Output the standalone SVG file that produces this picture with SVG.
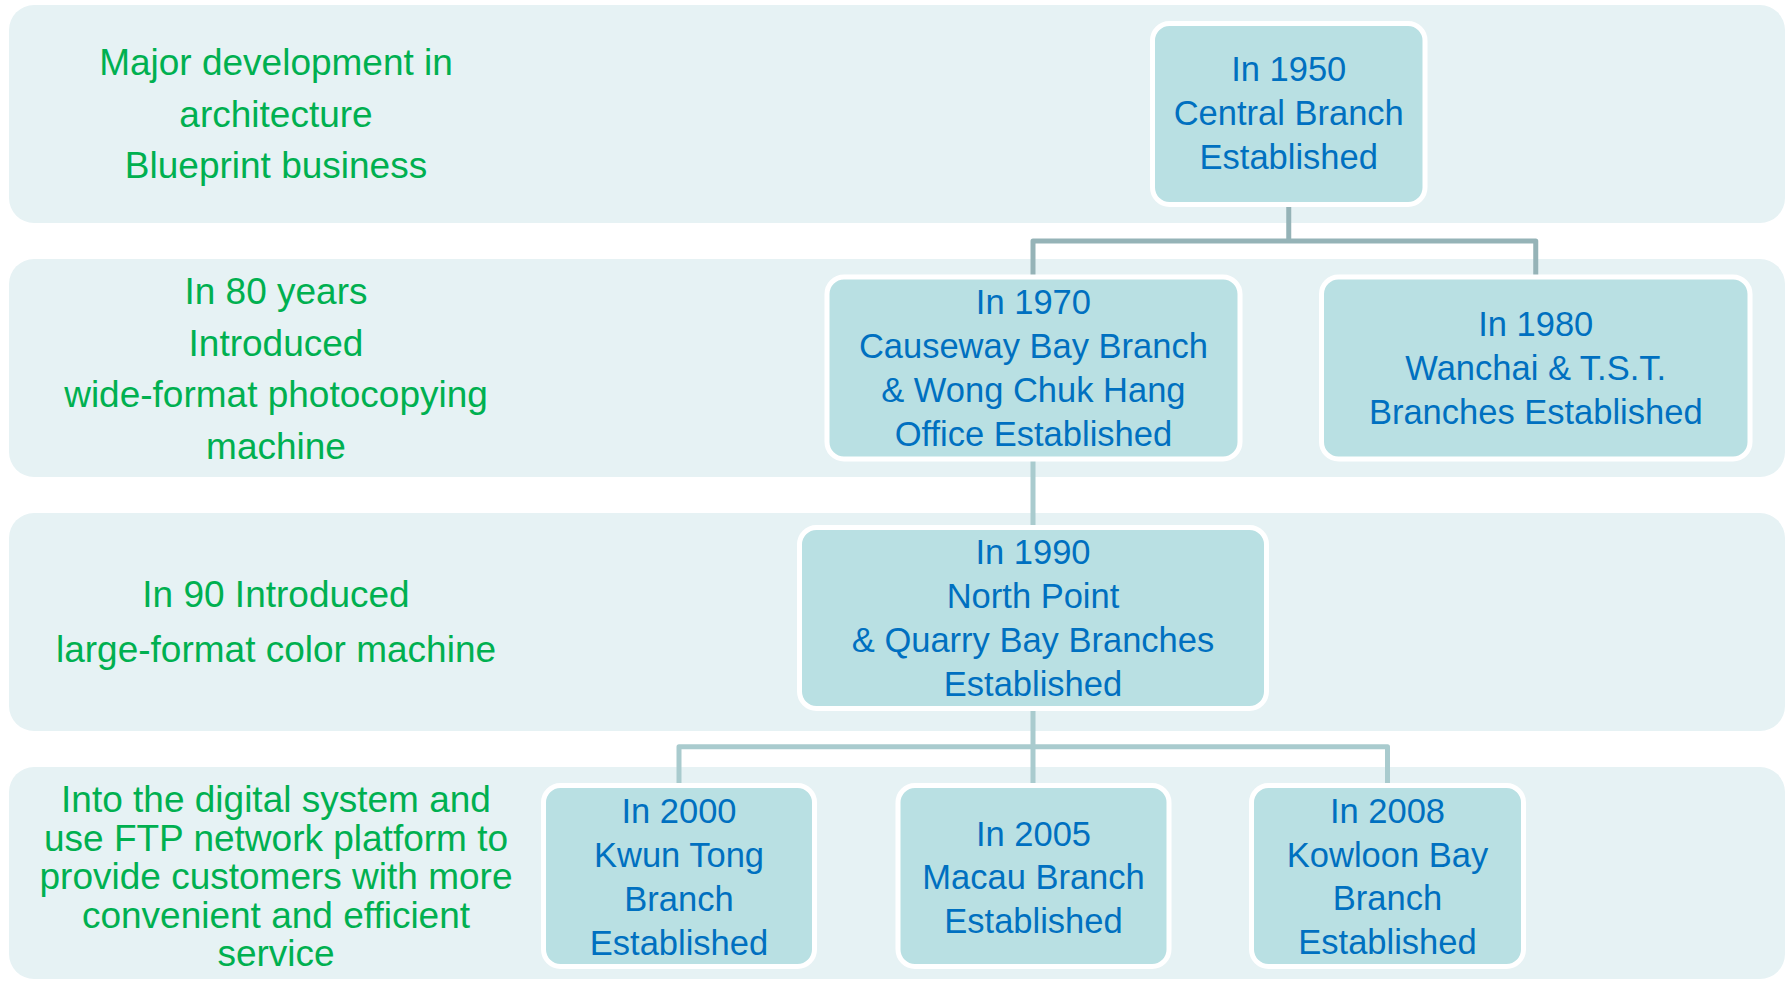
<svg xmlns="http://www.w3.org/2000/svg" width="1791" height="981" viewBox="0 0 1791 981">
  <style>
    .band { fill: #E6F2F4; }
    .node rect { fill: #B9E0E3; stroke: #FFFFFF; stroke-width: 5; }
    .node text { font-family: "Liberation Sans", Arial, sans-serif; font-size: 34.5px; fill: #0070C0; text-anchor: middle; }
    .note { font-family: "Liberation Sans", Arial, sans-serif; font-size: 37px; fill: #00B050; text-anchor: middle; }
    .conn { fill: none; stroke-width: 5; stroke-linejoin: round; }
    .c1 { stroke: #95B3B7; }
    .c2 { stroke: #A9CBCE; }
  </style>

  <g id="bands">
    <rect class="band" x="9" y="5" width="1776" height="218" rx="25"/>
    <rect class="band" x="9" y="259" width="1776" height="218" rx="25"/>
    <rect class="band" x="9" y="513" width="1776" height="218" rx="25"/>
    <rect class="band" x="9" y="767" width="1776" height="212" rx="25"/>
  </g>

  <g id="notes">
    <text class="note" x="276" y="75">Major development in</text>
    <text class="note" x="276" y="126.7">architecture</text>
    <text class="note" x="276" y="178.3">Blueprint business</text>

    <text class="note" x="276" y="304">In 80 years</text>
    <text class="note" x="276" y="355.8">Introduced</text>
    <text class="note" x="276" y="407.2">wide-format photocopying</text>
    <text class="note" x="276" y="458.8">machine</text>

    <text class="note" x="276" y="606.7">In 90 Introduced</text>
    <text class="note" x="276" y="661.5">large-format color machine</text>

    <text class="note" x="276" y="812">Into the digital system and</text>
    <text class="note" x="276" y="850.8">use FTP network platform to</text>
    <text class="note" x="276" y="889.3">provide customers with more</text>
    <text class="note" x="276" y="928">convenient and efficient</text>
    <text class="note" x="276" y="966.3">service</text>
  </g>

  <g id="connectors">
    <path class="conn c1" d="M1288.75 204 V241"/>
    <path class="conn c1" d="M1033 277 V241 H1535.75 V277"/>
    <path class="conn c2" d="M1033 459 V528"/>
    <path class="conn c2" d="M1033 708 V785.5"/>
    <path class="conn c2" d="M679 785.5 V746.7 H1387.5 V785.5"/>
  </g>

  <g id="node-1950" class="node">
    <rect x="1152.5" y="23.5" width="272.5" height="181" rx="17"/>
    <text x="1288.75" y="80.7">In 1950</text>
    <text x="1288.75" y="124.7">Central Branch</text>
    <text x="1288.75" y="168.7">Established</text>
  </g>

  <g id="node-1970" class="node">
    <rect x="827" y="277" width="413" height="182" rx="17"/>
    <text x="1033.4" y="313.7">In 1970</text>
    <text x="1033.4" y="357.7">Causeway Bay Branch</text>
    <text x="1033.4" y="401.7">&amp; Wong Chuk Hang</text>
    <text x="1033.4" y="445.5">Office Established</text>
  </g>

  <g id="node-1980" class="node">
    <rect x="1321.5" y="277" width="428.5" height="182" rx="17"/>
    <text x="1535.75" y="336.2">In 1980</text>
    <text x="1535.75" y="380">Wanchai &amp; T.S.T.</text>
    <text x="1535.75" y="424">Branches Established</text>
  </g>

  <g id="node-1990" class="node">
    <rect x="799.5" y="527.5" width="467" height="181" rx="17"/>
    <text x="1033" y="563.8">In 1990</text>
    <text x="1033" y="607.8">North Point</text>
    <text x="1033" y="651.8">&amp; Quarry Bay Branches</text>
    <text x="1033" y="695.8">Established</text>
  </g>

  <g id="node-2000" class="node">
    <rect x="543.5" y="785.5" width="271" height="181" rx="17"/>
    <text x="679" y="823">In 2000</text>
    <text x="679" y="867.3">Kwun Tong</text>
    <text x="679" y="910.8">Branch</text>
    <text x="679" y="954.5">Established</text>
  </g>

  <g id="node-2005" class="node">
    <rect x="898" y="785.5" width="271" height="181" rx="17"/>
    <text x="1033.5" y="845.5">In 2005</text>
    <text x="1033.5" y="889.2">Macau Branch</text>
    <text x="1033.5" y="932.7">Established</text>
  </g>

  <g id="node-2008" class="node">
    <rect x="1251.5" y="785.5" width="272" height="181" rx="17"/>
    <text x="1387.5" y="823">In 2008</text>
    <text x="1387.5" y="866.8">Kowloon Bay</text>
    <text x="1387.5" y="910.3">Branch</text>
    <text x="1387.5" y="954">Established</text>
  </g>
</svg>
